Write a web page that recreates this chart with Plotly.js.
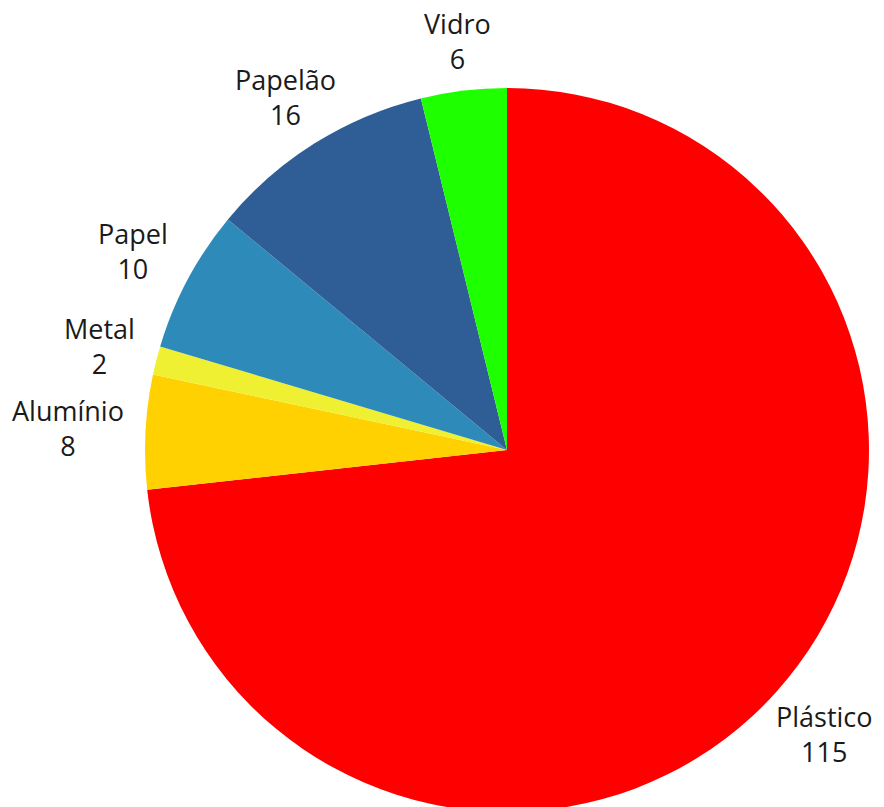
<!DOCTYPE html>
<html>
<head>
<meta charset="utf-8">
<script src="https://cdn.plot.ly/plotly-3.0.1.min.js"></script>
<style>
html, body { margin: 0; padding: 0; background: #fff; overflow: hidden; }
#wrap { width: 884px; height: 807px; overflow: hidden; }
</style>
</head>
<body>
<div id="wrap"><div id="chart"></div></div>
<script>
const categories = ["Plástico", "Alumínio", "Metal", "Papel", "Papelão", "Vidro"];
const values = [115, 8, 2, 10, 16, 6];
const colors = ["#FF0000", "#FFD100", "#F0F032", "#2E8BB9", "#2F5E96", "#1EFF00"];

const FONT = "Open Sans, Noto Sans, sans-serif";
const FONT_SIZE = 27;
const W = 884, H = 830;
const M = { l: 145, r: 15, t: 88, b: 18 };
const plotW = W - M.l - M.r, plotH = H - M.t - M.b;
const rPx = Math.min(plotW, plotH) / 2;

// label placement: along each slice's mid-angle, just outside the pie edge
const ctx = document.createElement("canvas").getContext("2d");
ctx.font = FONT_SIZE + 'px "Open Sans"';
const total = values.reduce((a, b) => a + b, 0);
let cum = 0;
const annotations = categories.map((cat, i) => {
  const mid = (cum + values[i] / 2) / total * 2 * Math.PI; // clockwise from top
  cum += values[i];
  const ux = Math.sin(mid), uy = Math.cos(mid);
  const hw = Math.max(ctx.measureText(cat).width, ctx.measureText(String(values[i])).width) / 2;
  const hh = FONT_SIZE * 1.04;
  const edge = Math.min(Math.abs(ux) > 1e-6 ? hw / Math.abs(ux) : Infinity,
                        Math.abs(uy) > 1e-6 ? hh / Math.abs(uy) : Infinity);
  const d = rPx + 22 + edge;
  return {
    xref: "paper", yref: "paper",
    x: 0.5 + d * ux / plotW,
    y: 0.5 + d * uy / plotH,
    xanchor: "center", yanchor: "middle",
    showarrow: false,
    text: cat + "<br>" + values[i],
    font: { family: FONT, size: FONT_SIZE, color: "#1a1a1a" }
  };
});

const trace = {
  type: "pie",
  labels: categories,
  values: values,
  sort: false,
  direction: "clockwise",
  rotation: 0,
  textinfo: "none",
  marker: { colors: colors, line: { width: 0 } },
  showlegend: false,
  hoverinfo: "label+value+percent"
};

const layout = {
  width: W,
  height: H,
  margin: M,
  paper_bgcolor: "#fff",
  plot_bgcolor: "#fff",
  showlegend: false,
  font: { family: FONT },
  annotations: annotations
};

Plotly.newPlot("chart", [trace], layout, { displayModeBar: false, staticPlot: true });
</script>
</body>
</html>
